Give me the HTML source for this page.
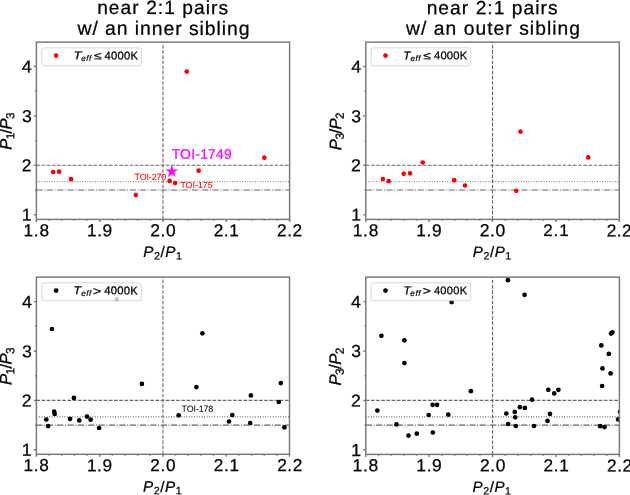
<!DOCTYPE html><html><head><meta charset="utf-8"><style>html,body{margin:0;padding:0;background:#fff;width:630px;height:495px;overflow:hidden}svg{display:block;will-change:transform}</style></head><body><svg width="630" height="495" viewBox="0 0 630 495">
<style>text{font-family:"Liberation Sans", sans-serif;fill:#000;stroke:#000;stroke-width:0.25px}.tt{font-size:19.9px}.tk{font-size:17.1px}.lb{font-size:15.6px}.lg{font-size:10.9px}</style>
<rect width="630" height="495" fill="#fff"/>
<clipPath id="clipTL"><rect x="36.4" y="42.1" width="253.20" height="177.30"/></clipPath>
<g clip-path="url(#clipTL)" fill="none" stroke="#666666" stroke-width="1.1">
<line x1="163.00" y1="219.4" x2="163.00" y2="42.1" stroke-dasharray="3.615 1.563"/>
<line x1="36.4" y1="165.30" x2="289.6" y2="165.30" stroke-dasharray="3.615 1.563"/>
<line x1="36.4" y1="181.77" x2="289.6" y2="181.77" stroke-dasharray="0.959 1.582"/>
<line x1="36.4" y1="190.00" x2="289.6" y2="190.00" stroke-dasharray="6.253 1.563 0.977 1.563"/>
</g>
<clipPath id="clipTR"><rect x="365.8" y="42.1" width="253.50" height="177.30"/></clipPath>
<g clip-path="url(#clipTR)" fill="none" stroke="#666666" stroke-width="1.1">
<line x1="492.55" y1="219.4" x2="492.55" y2="42.1" stroke-dasharray="3.615 1.563"/>
<line x1="365.8" y1="165.30" x2="619.3" y2="165.30" stroke-dasharray="3.615 1.563"/>
<line x1="365.8" y1="181.77" x2="619.3" y2="181.77" stroke-dasharray="0.959 1.582"/>
<line x1="365.8" y1="190.00" x2="619.3" y2="190.00" stroke-dasharray="6.253 1.563 0.977 1.563"/>
</g>
<clipPath id="clipBL"><rect x="36.4" y="277.1" width="253.10" height="177.20"/></clipPath>
<g clip-path="url(#clipBL)" fill="none" stroke="#666666" stroke-width="1.1">
<line x1="162.95" y1="454.3" x2="162.95" y2="277.1" stroke-dasharray="3.615 1.563"/>
<line x1="36.4" y1="400.40" x2="289.5" y2="400.40" stroke-dasharray="3.615 1.563"/>
<line x1="36.4" y1="416.87" x2="289.5" y2="416.87" stroke-dasharray="0.959 1.582"/>
<line x1="36.4" y1="425.10" x2="289.5" y2="425.10" stroke-dasharray="6.253 1.563 0.977 1.563"/>
</g>
<clipPath id="clipBR"><rect x="365.8" y="277.1" width="253.60" height="177.30"/></clipPath>
<g clip-path="url(#clipBR)" fill="none" stroke="#666666" stroke-width="1.1">
<line x1="492.60" y1="454.4" x2="492.60" y2="277.1" stroke-dasharray="3.615 1.563"/>
<line x1="365.8" y1="400.40" x2="619.4" y2="400.40" stroke-dasharray="3.615 1.563"/>
<line x1="365.8" y1="416.87" x2="619.4" y2="416.87" stroke-dasharray="0.959 1.582"/>
<line x1="365.8" y1="425.10" x2="619.4" y2="425.10" stroke-dasharray="6.253 1.563 0.977 1.563"/>
</g>
<g clip-path="url(#clipTL)" fill="#ff0000">
<circle cx="53.2" cy="172.0" r="2.35"/>
<circle cx="59.0" cy="171.7" r="2.35"/>
<circle cx="71.0" cy="179.2" r="2.35"/>
<circle cx="135.8" cy="195.1" r="2.35"/>
<circle cx="169.6" cy="180.9" r="2.35"/>
<circle cx="175.1" cy="183.0" r="2.35"/>
<circle cx="186.7" cy="71.6" r="2.35"/>
<circle cx="198.6" cy="170.7" r="2.35"/>
<circle cx="264.3" cy="157.7" r="2.35"/>
</g>
<g clip-path="url(#clipTR)" fill="#ff0000">
<circle cx="382.8" cy="179.0" r="2.35"/>
<circle cx="388.7" cy="181.2" r="2.35"/>
<circle cx="403.7" cy="173.8" r="2.35"/>
<circle cx="410.0" cy="173.3" r="2.35"/>
<circle cx="422.7" cy="162.5" r="2.35"/>
<circle cx="454.2" cy="180.2" r="2.35"/>
<circle cx="465.0" cy="185.5" r="2.35"/>
<circle cx="516.3" cy="190.8" r="2.35"/>
<circle cx="520.5" cy="131.7" r="2.35"/>
<circle cx="588.2" cy="157.4" r="2.35"/>
</g>
<g clip-path="url(#clipBL)" fill="#000">
<circle cx="116.7" cy="299.0" r="2.35"/>
<circle cx="46.3" cy="419.5" r="2.35"/>
<circle cx="48.1" cy="426.1" r="2.35"/>
<circle cx="54.2" cy="411.7" r="2.35"/>
<circle cx="54.7" cy="414.0" r="2.35"/>
<circle cx="73.9" cy="397.9" r="2.35"/>
<circle cx="70.0" cy="418.9" r="2.35"/>
<circle cx="79.3" cy="420.4" r="2.35"/>
<circle cx="87.0" cy="416.6" r="2.35"/>
<circle cx="90.6" cy="419.7" r="2.35"/>
<circle cx="99.1" cy="428.0" r="2.35"/>
<circle cx="51.9" cy="329.0" r="2.35"/>
<circle cx="141.9" cy="383.9" r="2.35"/>
<circle cx="178.7" cy="415.3" r="2.35"/>
<circle cx="196.4" cy="387.1" r="2.35"/>
<circle cx="202.4" cy="333.3" r="2.35"/>
<circle cx="229.0" cy="421.5" r="2.35"/>
<circle cx="232.3" cy="415.0" r="2.35"/>
<circle cx="250.9" cy="395.4" r="2.35"/>
<circle cx="250.2" cy="423.0" r="2.35"/>
<circle cx="278.8" cy="402.0" r="2.35"/>
<circle cx="280.8" cy="383.1" r="2.35"/>
<circle cx="284.4" cy="427.4" r="2.35"/>
</g>
<g clip-path="url(#clipBR)" fill="#000">
<circle cx="381.4" cy="335.8" r="2.35"/>
<circle cx="404.4" cy="340.3" r="2.35"/>
<circle cx="404.4" cy="363.0" r="2.35"/>
<circle cx="377.4" cy="410.6" r="2.35"/>
<circle cx="396.5" cy="424.4" r="2.35"/>
<circle cx="408.5" cy="435.6" r="2.35"/>
<circle cx="416.8" cy="433.7" r="2.35"/>
<circle cx="428.7" cy="415.0" r="2.35"/>
<circle cx="432.6" cy="404.8" r="2.35"/>
<circle cx="437.0" cy="404.8" r="2.35"/>
<circle cx="432.8" cy="432.5" r="2.35"/>
<circle cx="448.3" cy="414.6" r="2.35"/>
<circle cx="451.6" cy="302.1" r="2.35"/>
<circle cx="470.9" cy="391.2" r="2.35"/>
<circle cx="507.9" cy="280.2" r="2.35"/>
<circle cx="524.6" cy="294.8" r="2.35"/>
<circle cx="506.3" cy="413.5" r="2.35"/>
<circle cx="508.2" cy="424.0" r="2.35"/>
<circle cx="514.8" cy="411.9" r="2.35"/>
<circle cx="515.2" cy="417.3" r="2.35"/>
<circle cx="515.8" cy="426.0" r="2.35"/>
<circle cx="519.9" cy="407.2" r="2.35"/>
<circle cx="524.9" cy="407.9" r="2.35"/>
<circle cx="532.1" cy="399.7" r="2.35"/>
<circle cx="534.0" cy="426.0" r="2.35"/>
<circle cx="547.5" cy="420.9" r="2.35"/>
<circle cx="550.0" cy="413.9" r="2.35"/>
<circle cx="548.3" cy="389.8" r="2.35"/>
<circle cx="554.2" cy="393.4" r="2.35"/>
<circle cx="558.4" cy="389.8" r="2.35"/>
<circle cx="601.3" cy="345.4" r="2.35"/>
<circle cx="608.8" cy="353.9" r="2.35"/>
<circle cx="602.5" cy="368.4" r="2.35"/>
<circle cx="610.6" cy="373.4" r="2.35"/>
<circle cx="611.0" cy="333.6" r="2.35"/>
<circle cx="612.4" cy="332.4" r="2.35"/>
<circle cx="602.1" cy="386.0" r="2.35"/>
<circle cx="600.2" cy="426.2" r="2.35"/>
<circle cx="604.5" cy="427.1" r="2.35"/>
<circle cx="620.0" cy="411.8" r="2.35"/>
<circle cx="618.2" cy="419.4" r="2.35"/>
</g>
<polygon points="171.80,164.80 170.30,169.43 165.43,169.43 169.37,172.29 167.86,176.92 171.80,174.06 175.74,176.92 174.23,172.29 178.17,169.43 173.30,169.43" fill="#ff00ff"/>
<rect x="36.4" y="42.1" width="253.20" height="177.30" fill="none" stroke="#787878" stroke-width="1.45"/>
<path d="M36.40,219.4v2.5M99.70,219.4v2.5M163.00,219.4v2.5M226.30,219.4v2.5M289.60,219.4v2.5M49.06,219.4v1.4M61.72,219.4v1.4M74.38,219.4v1.4M87.04,219.4v1.4M112.36,219.4v1.4M125.02,219.4v1.4M137.68,219.4v1.4M150.34,219.4v1.4M175.66,219.4v1.4M188.32,219.4v1.4M200.98,219.4v1.4M213.64,219.4v1.4M238.96,219.4v1.4M251.62,219.4v1.4M264.28,219.4v1.4M276.94,219.4v1.4M36.4,214.70h-2.5M36.4,165.30h-2.5M36.4,115.90h-2.5M36.4,66.50h-2.5M36.4,190.00h-1.4M36.4,140.60h-1.4M36.4,91.20h-1.4" stroke="#787878" stroke-width="1.45" fill="none"/>
<rect x="365.8" y="42.1" width="253.50" height="177.30" fill="none" stroke="#787878" stroke-width="1.45"/>
<path d="M365.80,219.4v2.5M429.18,219.4v2.5M492.55,219.4v2.5M555.92,219.4v2.5M619.30,219.4v2.5M378.48,219.4v1.4M391.15,219.4v1.4M403.83,219.4v1.4M416.50,219.4v1.4M441.85,219.4v1.4M454.52,219.4v1.4M467.20,219.4v1.4M479.87,219.4v1.4M505.22,219.4v1.4M517.90,219.4v1.4M530.58,219.4v1.4M543.25,219.4v1.4M568.60,219.4v1.4M581.27,219.4v1.4M593.95,219.4v1.4M606.62,219.4v1.4M365.8,214.70h-2.5M365.8,165.30h-2.5M365.8,115.90h-2.5M365.8,66.50h-2.5M365.8,190.00h-1.4M365.8,140.60h-1.4M365.8,91.20h-1.4" stroke="#787878" stroke-width="1.45" fill="none"/>
<rect x="36.4" y="277.1" width="253.10" height="177.20" fill="none" stroke="#787878" stroke-width="1.45"/>
<path d="M36.40,454.3v2.5M99.68,454.3v2.5M162.95,454.3v2.5M226.23,454.3v2.5M289.50,454.3v2.5M49.06,454.3v1.4M61.71,454.3v1.4M74.37,454.3v1.4M87.02,454.3v1.4M112.33,454.3v1.4M124.98,454.3v1.4M137.64,454.3v1.4M150.29,454.3v1.4M175.60,454.3v1.4M188.26,454.3v1.4M200.92,454.3v1.4M213.57,454.3v1.4M238.88,454.3v1.4M251.54,454.3v1.4M264.19,454.3v1.4M276.85,454.3v1.4M36.4,449.80h-2.5M36.4,400.40h-2.5M36.4,351.00h-2.5M36.4,301.60h-2.5M36.4,425.10h-1.4M36.4,375.70h-1.4M36.4,326.30h-1.4" stroke="#787878" stroke-width="1.45" fill="none"/>
<rect x="365.8" y="277.1" width="253.60" height="177.30" fill="none" stroke="#787878" stroke-width="1.45"/>
<path d="M365.80,454.4v2.5M429.20,454.4v2.5M492.60,454.4v2.5M556.00,454.4v2.5M619.40,454.4v2.5M378.48,454.4v1.4M391.16,454.4v1.4M403.84,454.4v1.4M416.52,454.4v1.4M441.88,454.4v1.4M454.56,454.4v1.4M467.24,454.4v1.4M479.92,454.4v1.4M505.28,454.4v1.4M517.96,454.4v1.4M530.64,454.4v1.4M543.32,454.4v1.4M568.68,454.4v1.4M581.36,454.4v1.4M594.04,454.4v1.4M606.72,454.4v1.4M365.8,449.80h-2.5M365.8,400.40h-2.5M365.8,351.00h-2.5M365.8,301.60h-2.5M365.8,425.10h-1.4M365.8,375.70h-1.4M365.8,326.30h-1.4" stroke="#787878" stroke-width="1.45" fill="none"/>
<rect x="41.75" y="47.85" width="99.6" height="17.9" rx="2.2" ry="2.2" fill="#fff" fill-opacity="0.8" stroke="#cccccc" stroke-opacity="0.8" stroke-width="1.0"/>
<circle cx="56.10" cy="55.60" r="2.35" fill="#ff0000"/>
<rect x="371.15" y="47.85" width="99.6" height="17.9" rx="2.2" ry="2.2" fill="#fff" fill-opacity="0.8" stroke="#cccccc" stroke-opacity="0.8" stroke-width="1.0"/>
<circle cx="385.50" cy="55.60" r="2.35" fill="#ff0000"/>
<rect x="41.75" y="282.85" width="99.6" height="17.9" rx="2.2" ry="2.2" fill="#fff" fill-opacity="0.8" stroke="#cccccc" stroke-opacity="0.8" stroke-width="1.0"/>
<circle cx="56.10" cy="290.60" r="2.35" fill="#000"/>
<rect x="371.15" y="282.85" width="99.6" height="17.9" rx="2.2" ry="2.2" fill="#fff" fill-opacity="0.8" stroke="#cccccc" stroke-opacity="0.8" stroke-width="1.0"/>
<circle cx="385.50" cy="290.60" r="2.35" fill="#000"/>
<g id="xtTL0" class="tx" transform="matrix(1.01273 0.001 -0.001 1.01273 0.048 -2.951)" style="letter-spacing:0.757px"><text x="36.40" y="236.25" text-anchor="middle" class="tk">1.8</text></g>
<g id="xtTL1" class="tx" transform="matrix(1.01331 0.001 -0.001 1.01331 -0.886 -3.232)" style="letter-spacing:0.603px"><text x="99.70" y="236.25" text-anchor="middle" class="tk">1.9</text></g>
<g id="xtTL2" class="tx" transform="matrix(1.01967 0.001 -0.001 1.01967 -2.701 -4.857)" style="letter-spacing:0.582px"><text x="163.00" y="236.25" text-anchor="middle" class="tk">2.0</text></g>
<g id="xtTL3" class="tx" transform="matrix(1.00393 0.001 -0.001 1.00393 -0.477 -1.254)" style="letter-spacing:0.610px"><text x="226.30" y="236.25" text-anchor="middle" class="tk">2.1</text></g>
<g id="xtTL4" class="tx" transform="matrix(1.00709 0.001 -0.001 1.00709 -1.615 -1.991)" style="letter-spacing:0.487px"><text x="289.60" y="236.25" text-anchor="middle" class="tk">2.2</text></g>
<g id="ytTL1" class="tx" transform="matrix(1.02588 0.001 -0.001 0.99892 -0.017 -0.004)"><text x="30.90" y="220.80" text-anchor="end" class="tk">1</text></g>
<g id="ytTL2" class="tx" transform="matrix(1.01604 0.001 -0.001 1.00595 0.194 -1.110)"><text x="30.90" y="171.40" text-anchor="end" class="tk">2</text></g>
<g id="ytTL3" class="tx" transform="matrix(1.03461 0.001 -0.001 0.99907 -0.093 -0.016)"><text x="30.90" y="122.00" text-anchor="end" class="tk">3</text></g>
<g id="ytTL4" class="tx" transform="matrix(1.05166 0.001 -0.001 1.00290 -0.732 -0.268)"><text x="30.90" y="72.60" text-anchor="end" class="tk">4</text></g>
<g id="xtTR0" class="tx" transform="matrix(1.01449 0.001 -0.001 1.01449 -4.988 -3.814)" style="letter-spacing:0.779px"><text x="365.80" y="236.25" text-anchor="middle" class="tk">1.8</text></g>
<g id="xtTR1" class="tx" transform="matrix(1.01342 0.001 -0.001 1.01342 -5.371 -3.514)" style="letter-spacing:0.684px"><text x="429.18" y="236.25" text-anchor="middle" class="tk">1.9</text></g>
<g id="xtTR2" class="tx" transform="matrix(1.02470 0.001 -0.001 1.02470 -11.637 -6.270)" style="letter-spacing:0.571px"><text x="492.55" y="236.25" text-anchor="middle" class="tk">2.0</text></g>
<g id="xtTR3" class="tx" transform="matrix(0.98952 0.001 -0.001 0.98952 6.538 1.722)" style="letter-spacing:0.889px"><text x="555.92" y="236.25" text-anchor="middle" class="tk">2.1</text></g>
<g id="xtTR4" class="tx" transform="matrix(1.00709 0.001 -0.001 1.00709 -3.953 -1.991)" style="letter-spacing:0.487px"><text x="619.30" y="236.25" text-anchor="middle" class="tk">2.2</text></g>
<g id="ytTR1" class="tx" transform="matrix(1.02496 0.001 -0.001 0.99440 -7.986 0.663)"><text x="360.30" y="220.80" text-anchor="end" class="tk">1</text></g>
<g id="ytTR2" class="tx" transform="matrix(1.03729 0.001 -0.001 1.00866 -12.617 -1.982)"><text x="360.30" y="171.40" text-anchor="end" class="tk">2</text></g>
<g id="ytTR3" class="tx" transform="matrix(1.03167 0.001 -0.001 1.01179 -10.507 -1.553)"><text x="360.30" y="122.00" text-anchor="end" class="tk">3</text></g>
<g id="ytTR4" class="tx" transform="matrix(1.04885 0.001 -0.001 0.99621 -16.644 -0.142)"><text x="360.30" y="72.60" text-anchor="end" class="tk">4</text></g>
<g id="xtBL0" class="tx" transform="matrix(1.00793 0.001 -0.001 1.00793 0.315 -3.849)" style="letter-spacing:0.689px"><text x="36.40" y="471.15" text-anchor="middle" class="tk">1.8</text></g>
<g id="xtBL1" class="tx" transform="matrix(1.00808 0.001 -0.001 1.00808 -0.243 -3.825)" style="letter-spacing:0.563px"><text x="99.68" y="471.15" text-anchor="middle" class="tk">1.9</text></g>
<g id="xtBL2" class="tx" transform="matrix(1.00422 0.001 -0.001 1.00422 0.117 -2.265)" style="letter-spacing:0.797px"><text x="162.95" y="471.15" text-anchor="middle" class="tk">2.0</text></g>
<g id="xtBL3" class="tx" transform="matrix(1.00561 0.001 -0.001 1.00561 -0.335 -3.084)" style="letter-spacing:0.722px"><text x="226.23" y="471.15" text-anchor="middle" class="tk">2.1</text></g>
<g id="xtBL4" class="tx" transform="matrix(1.00745 0.001 -0.001 1.00745 -1.169 -3.927)" style="letter-spacing:0.582px"><text x="289.50" y="471.15" text-anchor="middle" class="tk">2.2</text></g>
<g id="ytBL1" class="tx" transform="matrix(1.04112 0.001 -0.001 1.02163 -0.068 -9.928)"><text x="30.90" y="455.90" text-anchor="end" class="tk">1</text></g>
<g id="ytBL2" class="tx" transform="matrix(1.02338 0.001 -0.001 1.00790 0.267 -3.271)"><text x="30.90" y="406.50" text-anchor="end" class="tk">2</text></g>
<g id="ytBL3" class="tx" transform="matrix(1.03621 0.001 -0.001 0.99585 0.135 1.515)"><text x="30.90" y="357.10" text-anchor="end" class="tk">3</text></g>
<g id="ytBL4" class="tx" transform="matrix(1.04788 0.001 -0.001 1.00435 -0.142 -1.258)"><text x="30.90" y="307.70" text-anchor="end" class="tk">4</text></g>
<g id="xtBR0" class="tx" transform="matrix(1.02426 0.001 -0.001 1.02426 -8.433 -11.814)" style="letter-spacing:0.646px"><text x="365.80" y="471.25" text-anchor="middle" class="tk">1.8</text></g>
<g id="xtBR1" class="tx" transform="matrix(1.01969 0.001 -0.001 1.01969 -7.780 -9.730)" style="letter-spacing:0.622px"><text x="429.20" y="471.25" text-anchor="middle" class="tk">1.9</text></g>
<g id="xtBR2" class="tx" transform="matrix(1.01718 0.001 -0.001 1.01718 -7.659 -8.631)" style="letter-spacing:0.630px"><text x="492.60" y="471.25" text-anchor="middle" class="tk">2.0</text></g>
<g id="xtBR3" class="tx" transform="matrix(1.00822 0.001 -0.001 1.00822 -3.662 -4.522)" style="letter-spacing:0.680px"><text x="556.00" y="471.25" text-anchor="middle" class="tk">2.1</text></g>
<g id="xtBR4" class="tx" transform="matrix(1.00745 0.001 -0.001 1.00745 -3.626 -3.927)" style="letter-spacing:0.582px"><text x="619.40" y="471.25" text-anchor="middle" class="tk">2.2</text></g>
<g id="ytBR1" class="tx" transform="matrix(1.06501 0.001 -0.001 1.01781 -22.060 -8.413)"><text x="360.30" y="455.90" text-anchor="end" class="tk">1</text></g>
<g id="ytBR2" class="tx" transform="matrix(1.02910 0.001 -0.001 1.00377 -9.720 -1.983)"><text x="360.30" y="406.50" text-anchor="end" class="tk">2</text></g>
<g id="ytBR3" class="tx" transform="matrix(1.02092 0.001 -0.001 1.02082 -6.399 -7.836)"><text x="360.30" y="357.10" text-anchor="end" class="tk">3</text></g>
<g id="ytBR4" class="tx" transform="matrix(1.04641 0.001 -0.001 1.00253 -15.619 -1.130)"><text x="360.30" y="307.70" text-anchor="end" class="tk">4</text></g>
<g id="lgTTL" class="tx" transform="matrix(1.20284 0.001 -0.001 1.01646 -17.108 -1.342)"><text x="75.40" y="59.20" class="lg" font-style="italic">T</text></g>
<g id="lgETL" class="tx" transform="matrix(0.73497 0.001 -0.001 0.73497 21.500 16.101)" style="letter-spacing:0.778px"><text x="81.40" y="61.00" class="lg" font-style="italic" font-size="7.6">eff</text></g>
<g id="lgOTL" class="tx" transform="matrix(1.29537 0.001 -0.001 0.97451 -27.890 1.345)"><text x="94.10" y="59.40" class="lg">≤</text></g>
<g id="lgKTL" class="tx" transform="matrix(1.03808 0.001 -0.001 1.03808 -4.113 -2.525)" style="letter-spacing:0.252px"><text x="104.60" y="59.60" class="lg">4000K</text></g>
<g id="lgTTR" class="tx" transform="matrix(1.07038 0.001 -0.001 1.02970 -29.883 -2.110)"><text x="404.80" y="59.20" class="lg" font-style="italic">T</text></g>
<g id="lgETR" class="tx" transform="matrix(0.73098 0.001 -0.001 0.73098 110.163 15.950)" style="letter-spacing:0.837px"><text x="410.80" y="61.00" class="lg" font-style="italic" font-size="7.6">eff</text></g>
<g id="lgOTR" class="tx" transform="matrix(1.27666 0.001 -0.001 0.97632 -117.285 0.861)"><text x="423.50" y="59.40" class="lg">≤</text></g>
<g id="lgKTR" class="tx" transform="matrix(1.03148 0.001 -0.001 1.03148 -13.664 -2.624)" style="letter-spacing:0.196px"><text x="434.00" y="59.60" class="lg">4000K</text></g>
<g id="lgTBL" class="tx" transform="matrix(1.11437 0.001 -0.001 1.03025 -10.120 -9.161)"><text x="75.40" y="294.20" class="lg" font-style="italic">T</text></g>
<g id="lgEBL" class="tx" transform="matrix(0.74470 0.001 -0.001 0.74470 20.847 75.506)" style="letter-spacing:0.781px"><text x="81.40" y="296.00" class="lg" font-style="italic" font-size="7.6">eff</text></g>
<g id="lgOBL" class="tx" transform="matrix(1.30023 0.001 -0.001 1.12247 -28.612 -34.748)"><text x="93.80" y="293.90" class="lg">&gt;</text></g>
<g id="lgKBL" class="tx" transform="matrix(1.03831 0.001 -0.001 1.03831 -3.925 -11.622)" style="letter-spacing:0.209px"><text x="104.60" y="294.60" class="lg">4000K</text></g>
<g id="lgTBR" class="tx" transform="matrix(1.06751 0.001 -0.001 1.04717 -28.442 -14.241)"><text x="404.80" y="294.20" class="lg" font-style="italic">T</text></g>
<g id="lgEBR" class="tx" transform="matrix(0.75937 0.001 -0.001 0.75937 98.715 70.835)" style="letter-spacing:0.709px"><text x="410.80" y="296.00" class="lg" font-style="italic" font-size="7.6">eff</text></g>
<g id="lgOBR" class="tx" transform="matrix(1.28447 0.001 -0.001 1.06258 -120.642 -17.905)"><text x="423.20" y="293.90" class="lg">&gt;</text></g>
<g id="lgKBR" class="tx" transform="matrix(1.01690 0.001 -0.001 1.01690 -7.142 -5.698)" style="letter-spacing:0.292px"><text x="434.00" y="294.60" class="lg">4000K</text></g>
<g id="ttl1" class="tx" transform="matrix(0.96517 0.001 -0.001 0.96517 5.849 0.109)" style="letter-spacing:1.087px"><text x="163.0" y="14.3" text-anchor="middle" class="tt">near 2:1 pairs</text></g>
<g id="ttl2" class="tx" transform="matrix(0.97567 0.001 -0.001 0.97567 4.982 0.681)" style="letter-spacing:0.954px"><text x="163.0" y="34.9" text-anchor="middle" class="tt">w/ an inner sibling</text></g>
<g id="ttr1" class="tx" transform="matrix(0.96485 0.001 -0.001 0.96485 17.604 -0.067)" style="letter-spacing:1.088px"><text x="492.4" y="14.3" text-anchor="middle" class="tt">near 2:1 pairs</text></g>
<g id="ttr2" class="tx" transform="matrix(0.96598 0.001 -0.001 0.96598 17.931 0.573)" style="letter-spacing:1.094px"><text x="492.4" y="34.9" text-anchor="middle" class="tt">w/ an outer sibling</text></g>
<g id="xlTL" class="tx" transform="matrix(0.97598 0.001 -0.001 0.97598 4.595 5.613)" style="letter-spacing:0.579px"><text x="162.5" y="257.40" text-anchor="middle" class="lb"><tspan font-style="italic">P</tspan><tspan font-size="11" dy="2.5">2</tspan><tspan dy="-2.5">/</tspan><tspan font-style="italic">P</tspan><tspan font-size="11" dy="2.5">1</tspan></text></g>
<g id="xlTR" class="tx" transform="matrix(0.96658 0.001 -0.001 0.96658 17.115 7.690)" style="letter-spacing:0.575px"><text x="491.9" y="257.40" text-anchor="middle" class="lb"><tspan font-style="italic">P</tspan><tspan font-size="11" dy="2.5">2</tspan><tspan dy="-2.5">/</tspan><tspan font-style="italic">P</tspan><tspan font-size="11" dy="2.5">1</tspan></text></g>
<g id="xlBL" class="tx" transform="matrix(0.97598 0.001 -0.001 0.97598 4.595 11.255)" style="letter-spacing:0.579px"><text x="162.5" y="492.30" text-anchor="middle" class="lb"><tspan font-style="italic">P</tspan><tspan font-size="11" dy="2.5">2</tspan><tspan dy="-2.5">/</tspan><tspan font-style="italic">P</tspan><tspan font-size="11" dy="2.5">1</tspan></text></g>
<g id="xlBR" class="tx" transform="matrix(0.96658 0.001 -0.001 0.96658 17.115 15.545)" style="letter-spacing:0.575px"><text x="491.9" y="492.40" text-anchor="middle" class="lb"><tspan font-style="italic">P</tspan><tspan font-size="11" dy="2.5">2</tspan><tspan dy="-2.5">/</tspan><tspan font-style="italic">P</tspan><tspan font-size="11" dy="2.5">1</tspan></text></g>
<g id="ylTL" class="tx" transform="matrix(1.05872 0.001 -0.001 1.05872 -0.013 -7.443)" style="letter-spacing:-0.547px"><text transform="translate(11.05,131.20) rotate(-90)" x="0" y="0" text-anchor="middle" class="lb"><tspan font-style="italic">P</tspan><tspan font-size="11" dy="2.5">1</tspan><tspan dy="-2.5">/</tspan><tspan font-style="italic">P</tspan><tspan font-size="11" dy="2.5">3</tspan></text></g>
<g id="ylTR" class="tx" transform="matrix(1.07104 0.001 -0.001 1.07104 -23.513 -9.504)" style="letter-spacing:-0.513px"><text transform="translate(340.60,131.40) rotate(-90)" x="0" y="0" text-anchor="middle" class="lb"><tspan font-style="italic">P</tspan><tspan font-size="11" dy="2.5">3</tspan><tspan dy="-2.5">/</tspan><tspan font-style="italic">P</tspan><tspan font-size="11" dy="2.5">2</tspan></text></g>
<g id="ylBL" class="tx" transform="matrix(1.07842 0.001 -0.001 1.07842 0.038 -28.504)" style="letter-spacing:-0.626px"><text transform="translate(11.05,366.30) rotate(-90)" x="0" y="0" text-anchor="middle" class="lb"><tspan font-style="italic">P</tspan><tspan font-size="11" dy="2.5">1</tspan><tspan dy="-2.5">/</tspan><tspan font-style="italic">P</tspan><tspan font-size="11" dy="2.5">3</tspan></text></g>
<g id="ylBR" class="tx" transform="matrix(1.07870 0.001 -0.001 1.07870 -25.941 -28.812)" style="letter-spacing:-0.569px"><text transform="translate(340.60,366.50) rotate(-90)" x="0" y="0" text-anchor="middle" class="lb"><tspan font-style="italic">P</tspan><tspan font-size="11" dy="2.5">3</tspan><tspan dy="-2.5">/</tspan><tspan font-style="italic">P</tspan><tspan font-size="11" dy="2.5">2</tspan></text></g>
<g id="a1749" class="tx" transform="matrix(1.01353 0.001 -0.001 1.01353 -2.954 -2.385)" style="letter-spacing:0.248px"><text x="172.42" y="158.88" style="font-size:13.7px;fill:#ff00ff;stroke:#ff00ff;stroke-width:0.25px">TOI-1749</text></g>
<g id="a270" class="tx" transform="matrix(1.07797 0.001 -0.001 1.07797 -10.857 -13.853)" style="letter-spacing:-0.134px"><text x="135.09" y="179.80" style="font-size:8.3px;fill:#ff0000;stroke:#ff0000;stroke-width:0.05px">TOI-270</text></g>
<g id="a175" class="tx" transform="matrix(1.04614 0.001 -0.001 1.04614 -9.230 -8.680)" style="letter-spacing:0.076px"><text x="181.43" y="187.90" style="font-size:8.3px;fill:#ff0000;stroke:#ff0000;stroke-width:0.05px">TOI-175</text></g>
<g id="a178" class="tx" transform="matrix(1.07226 0.001 -0.001 1.07226 -13.388 -29.809)" style="letter-spacing:-0.109px"><text x="182.25" y="411.70" style="font-size:8.3px;fill:#000000;stroke:#000000;stroke-width:0.05px">TOI-178</text></g>
</svg></body></html>
